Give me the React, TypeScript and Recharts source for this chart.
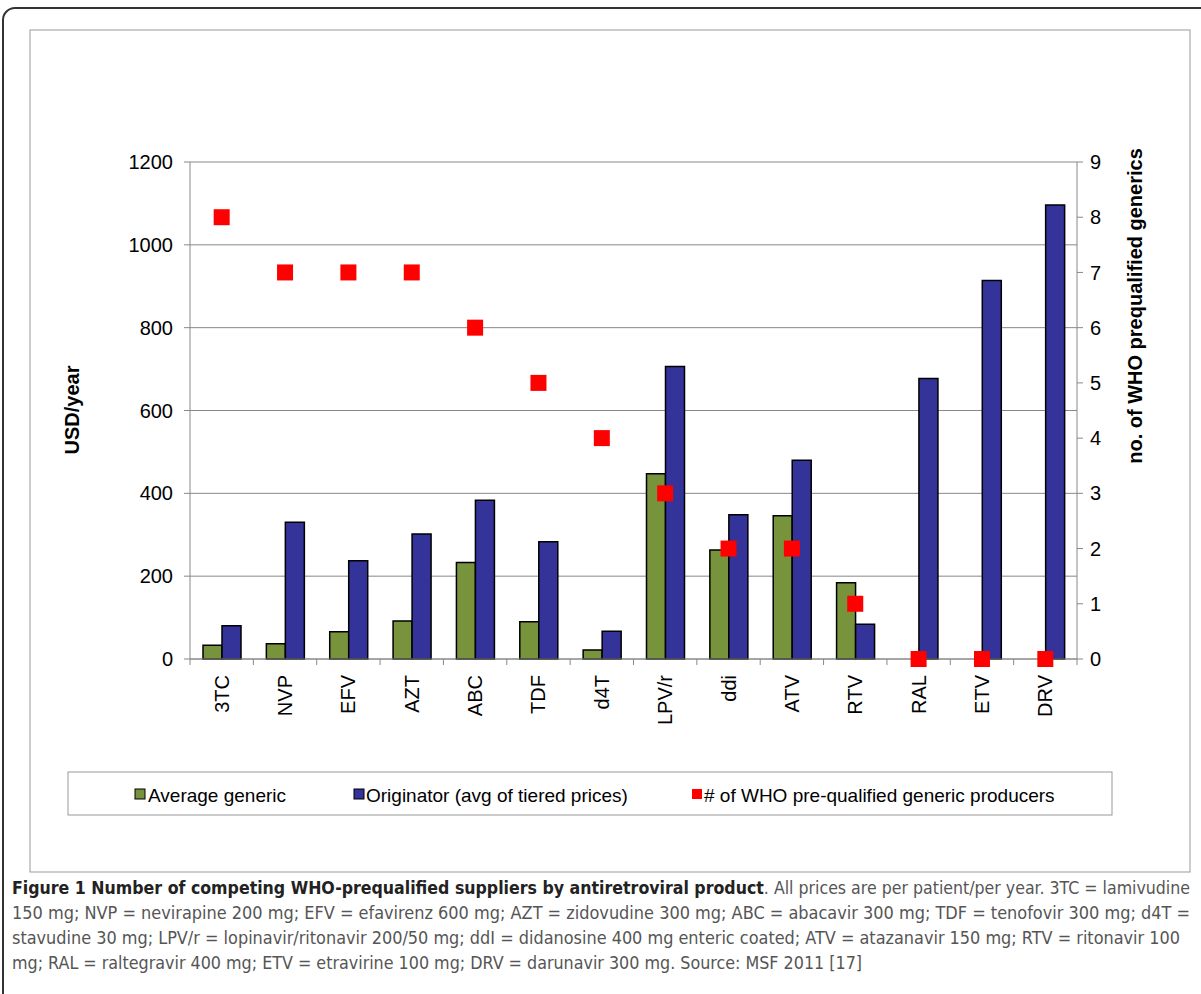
import { ComposedChart, Bar, Line, XAxis, YAxis, CartesianGrid } from "recharts";

const categories = ["3TC", "NVP", "EFV", "AZT", "ABC", "TDF", "d4T", "LPV/r", "ddi", "ATV", "RTV", "RAL", "ETV", "DRV"];
const genericPrice = [33, 37, 66, 92, 233, 90, 22, 447, 263, 346, 184, null, null, null];
const originatorPrice = [80, 330, 237, 302, 383, 283, 67, 706, 348, 480, 84, 677, 914, 1096];
const whoProducers = [8, 7, 7, 7, 6, 5, 4, 3, 2, 2, 1, 0, 0, 0];

const priceTicks = [0, 200, 400, 600, 800, 1000, 1200];
const countTicks = [0, 1, 2, 3, 4, 5, 6, 7, 8, 9];

const legendLabels = [
  "Average generic",
  "Originator (avg of tiered prices)",
  "# of WHO pre-qualified generic producers",
];

const captionBold = "Figure 1 Number of competing WHO-prequalified suppliers by antiretroviral product";
const captionLines = [
  ". All prices are per patient/per year. 3TC = lamivudine",
  "150 mg; NVP = nevirapine 200 mg; EFV = efavirenz 600 mg; AZT = zidovudine 300 mg; ABC = abacavir 300 mg; TDF = tenofovir 300 mg; d4T =",
  "stavudine 30 mg; LPV/r = lopinavir/ritonavir 200/50 mg; ddI = didanosine 400 mg enteric coated; ATV = atazanavir 150 mg; RTV = ritonavir 100",
  "mg; RAL = raltegravir 400 mg; ETV = etravirine 100 mg; DRV = darunavir 300 mg. Source: MSF 2011 [17]",
];

const data = categories.map((name, i) => ({
  name,
  generic: genericPrice[i],
  originator: originatorPrice[i],
  who: whoProducers[i],
}));

const FONT = "'Liberation Sans', Arial, sans-serif";
const GREEN = "#77933C";
const BLUE = "#333399";
const RED = "#FF0000";
const AXIS = "#888";

const PLOT_LEFT = 190;
const PLOT_RIGHT = 1077;
const PLOT_BOTTOM = 659;
const BAND = (PLOT_RIGHT - PLOT_LEFT) / categories.length;

function XTick(props: any) {
  const { x, payload, index } = props;
  const y0 = PLOT_BOTTOM;
  return (
    <g>
      <line x1={x - BAND / 2} x2={x - BAND / 2} y1={y0} y2={y0 + 6} stroke={AXIS} />
      {index === categories.length - 1 && (
        <line x1={x + BAND / 2} x2={x + BAND / 2} y1={y0} y2={y0 + 6} stroke={AXIS} />
      )}
      <text
        x={x}
        y={y0 + 16}
        transform={`rotate(-90 ${x} ${y0 + 16})`}
        textAnchor="end"
        dy="0.35em"
        fontSize={20}
        fontFamily={FONT}
        fill="#000"
      >
        {payload.value}
      </text>
    </g>
  );
}

function Square(props: any) {
  const { cx, cy } = props;
  if (cx == null || cy == null) return null;
  return <rect x={cx - 8} y={cy - 8} width={16} height={16} fill={RED} />;
}

export default function App() {
  return (
    <div style={{ position: "fixed", left: 0, top: 0, width: 1201, height: 994, background: "#fff", overflow: "hidden" }}>
      <svg width={1201} height={994} style={{ position: "absolute", left: 0, top: 0 }}>
        <rect x={3} y={8} width={1220} height={1010} rx={12} fill="none" stroke="#333" strokeWidth={2} />
        <rect x={30} y={30} width={1160} height={842} fill="none" stroke="#999" strokeWidth={1} />
        <text x={72} y={410} transform="rotate(-90 72 410)" textAnchor="middle" dy="0.35em" fontSize={20} fontWeight="bold" fontFamily={FONT}>
          USD/year
        </text>
        <text x={1135} y={306} transform="rotate(-90 1135 306)" textAnchor="middle" dy="0.35em" fontSize={20} fontWeight="bold" fontFamily={FONT}>
          no. of WHO prequalified generics
        </text>
        <rect x={68} y={772} width={1044} height={43} fill="none" stroke="#999" strokeWidth={1} />
        <rect x={135} y={789} width={10} height={10} fill={GREEN} stroke="#000" />
        <text x={148} y={795} dy="0.35em" fontSize={19} fontFamily={FONT}>{legendLabels[0]}</text>
        <rect x={354} y={789} width={10} height={10} fill={BLUE} stroke="#000" />
        <text x={366} y={795} dy="0.35em" fontSize={19} fontFamily={FONT}>{legendLabels[1]}</text>
        <rect x={692} y={789} width={10} height={10} fill={RED} />
        <text x={704} y={795} dy="0.35em" fontSize={19} fontFamily={FONT}>{legendLabels[2]}</text>
        <g fontFamily="'Liberation Sans Narrow', 'DejaVu Sans Condensed', Roboto, sans-serif" fontSize={18} fill="#555">
          <text x={12} y={894} textLength={1178} lengthAdjust="spacingAndGlyphs">
            <tspan fontWeight="bold" fill="#222">{captionBold}</tspan>
            <tspan>{captionLines[0]}</tspan>
          </text>
          <text x={12} y={919} textLength={1178} lengthAdjust="spacingAndGlyphs">{captionLines[1]}</text>
          <text x={12} y={944} textLength={1168} lengthAdjust="spacingAndGlyphs">{captionLines[2]}</text>
          <text x={12} y={969} textLength={850} lengthAdjust="spacingAndGlyphs">{captionLines[3]}</text>
        </g>
      </svg>
      <div style={{ position: "absolute", left: 0, top: 0 }}>
        <ComposedChart
          width={1201}
          height={870}
          data={data}
          margin={{ top: 162, right: 64, left: 130, bottom: 151 }}
          barCategoryGap={13}
          barGap={0}
        >
          <CartesianGrid yAxisId="left" vertical={false} stroke={AXIS} />
          <XAxis
            dataKey="name"
            interval={0}
            height={60}
            tickLine={false}
            axisLine={{ stroke: AXIS }}
            tick={<XTick />}
          />
          <YAxis
            yAxisId="left"
            domain={[0, 1200]}
            ticks={priceTicks}
            width={60}
            axisLine={{ stroke: AXIS }}
            tickLine={{ stroke: AXIS }}
            tickSize={6}
            tickMargin={11}
            tick={{ fontSize: 20, fontFamily: FONT, fill: "#000" }}
          />
          <YAxis
            yAxisId="right"
            orientation="right"
            domain={[0, 9]}
            ticks={countTicks}
            width={60}
            axisLine={{ stroke: AXIS }}
            tickLine={{ stroke: AXIS }}
            tickSize={6}
            tickMargin={7}
            tick={{ fontSize: 20, fontFamily: FONT, fill: "#000" }}
          />
          <Bar yAxisId="left" dataKey="generic" fill={GREEN} stroke="#000" strokeWidth={1.5} isAnimationActive={false} />
          <Bar yAxisId="left" dataKey="originator" fill={BLUE} stroke="#000" strokeWidth={1.5} isAnimationActive={false} />
          <Line
            yAxisId="right"
            dataKey="who"
            stroke="none"
            dot={<Square />}
            activeDot={false}
            isAnimationActive={false}
          />
        </ComposedChart>
      </div>
    </div>
  );
}
